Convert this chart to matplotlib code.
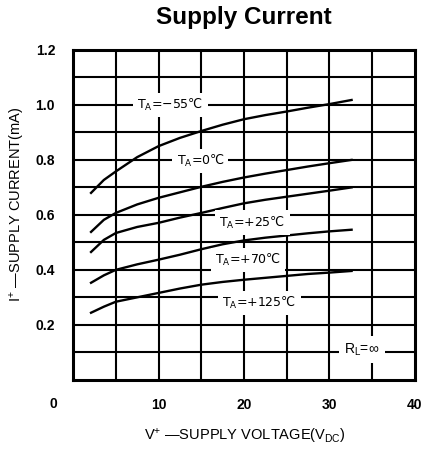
import matplotlib
matplotlib.use("Agg")
import matplotlib.pyplot as plt

plt.rcParams['font.family'] = ['Liberation Sans', 'DejaVu Sans']
plt.rcParams['mathtext.fontset'] = 'custom'
plt.rcParams['mathtext.rm'] = 'Liberation Sans'
plt.rcParams['mathtext.it'] = 'Liberation Sans'
plt.rcParams['mathtext.bf'] = 'Liberation Sans:bold'

# supply voltage (V) where the curves were read
VOLTAGE = [2.1, 3.6, 5, 7.5, 10, 12.5, 15, 17.5, 20, 22.5, 25, 27.5, 30, 32.6]

# supply current (mA) per ambient temperature
I_M55 = [0.68, 0.727, 0.758, 0.81, 0.85, 0.88, 0.905, 0.928, 0.948, 0.963, 0.976, 0.99, 1.003, 1.018]
I_0 = [0.538, 0.582, 0.607, 0.638, 0.662, 0.682, 0.702, 0.72, 0.736, 0.75, 0.763, 0.776, 0.788, 0.80]
I_25 = [0.465, 0.509, 0.534, 0.556, 0.571, 0.59, 0.607, 0.625, 0.642, 0.655, 0.666, 0.677, 0.688, 0.70]
I_70 = [0.353, 0.38, 0.40, 0.42, 0.437, 0.455, 0.475, 0.493, 0.507, 0.517, 0.525, 0.533, 0.54, 0.546]
I_125 = [0.244, 0.266, 0.284, 0.30, 0.316, 0.332, 0.346, 0.356, 0.364, 0.371, 0.378, 0.385, 0.39, 0.396]

CURVES = [I_M55, I_0, I_25, I_70, I_125]
LABELS = ['T$_\\mathregular{A}$=\u221255\u2103', 'T$_\\mathregular{A}$=0\u2103',
          'T$_\\mathregular{A}$=+25\u2103', 'T$_\\mathregular{A}$=+70\u2103',
          'T$_\\mathregular{A}$=+125\u2103']
LABEL_POS = [(11.4, 1.0), (14.9, 0.795), (21.0, 0.572), (20.5, 0.435), (21.8, 0.28)]

fig = plt.figure(figsize=(4.25, 4.5), dpi=100)
ax = fig.add_axes([0.172, 0.156, 0.804, 0.733])

for x in range(5, 40, 5):
    ax.axvline(x, color='black', lw=1.5, zorder=1)
for i in range(1, 12):
    ax.axhline(i / 10, color='black', lw=1.5, zorder=1)

for cur in CURVES:
    ax.plot(VOLTAGE, cur, color='black', lw=1.7, zorder=3)

# DejaVu Sans carries the degree-Celsius sign, Liberation Sans does not
for lab, (x, y) in zip(LABELS, LABEL_POS):
    ax.text(x, y, lab, ha='center', va='center', fontsize=9, family='DejaVu Sans', zorder=4,
            bbox=dict(facecolor='white', edgecolor='none', pad=3))
ax.text(33.8, 0.11, 'R$_\\mathregular{L}$=\u221e', ha='center', va='center', fontsize=10,
        zorder=4, bbox=dict(facecolor='white', edgecolor='none', pad=4))

ax.set_xlim(0, 40)
ax.set_ylim(0, 1.2)
ax.set_xticks([10, 20, 30, 40])
ax.set_yticks([0.2, 0.4, 0.6, 0.8, 1.0, 1.2])
ax.set_yticklabels(['0.2', '0.4', '0.6', '0.8', '1.0', '1.2'])
ax.tick_params(length=0, labelsize=10, pad=13)
for t in ax.get_xticklabels() + ax.get_yticklabels():
    t.set_fontweight('bold')
ax.text(-0.058, -0.073, '0', transform=ax.transAxes, ha='center', va='center',
        fontsize=10, fontweight='bold')
for s in ax.spines.values():
    s.set_linewidth(2.2)

fig.text(0.576, 0.029, 'V$^\\mathregular{+}$ \u2014SUPPLY VOLTAGE(V$_\\mathregular{DC}$)',
         fontsize=10.5, ha='center', va='center')
fig.text(0.042, 0.547, 'I$^\\mathregular{+}$ \u2014SUPPLY CURRENT(mA)',
         fontsize=10.5, ha='center', va='center', rotation=90)
ax.set_title('Supply Current', fontsize=17.5, fontweight='bold', pad=19)

fig.savefig('out.png', dpi=100)
